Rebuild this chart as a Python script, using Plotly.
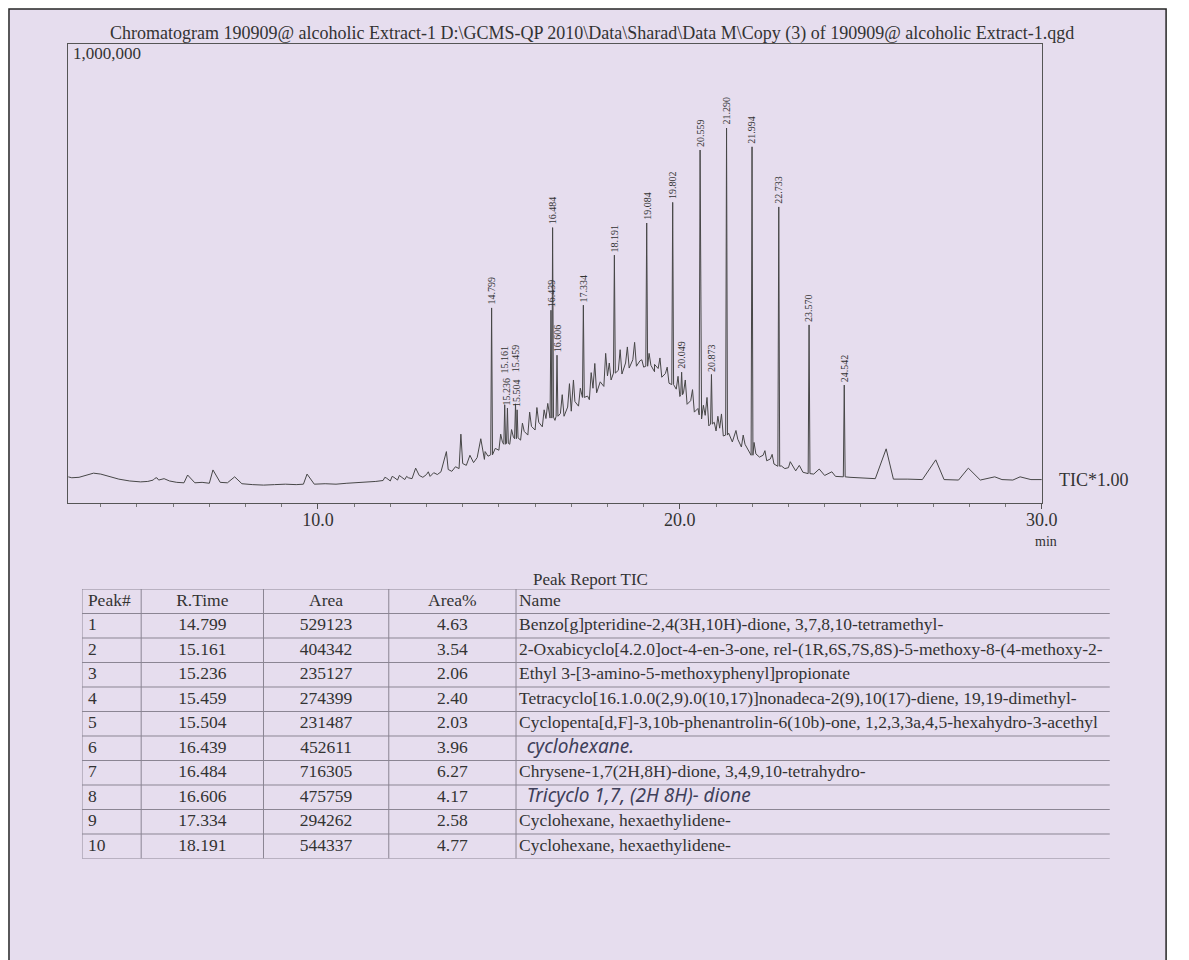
import numpy as np
import plotly.graph_objects as go

# page is 1189x960; the html body adds an 8px margin, so the figure is 1181x952
PW, PH = 1189, 960
OFF = 8
FW, FH = PW - OFF, PH - OFF

# ---------------- chromatogram data (retention time in min, intensity in thousands of counts) --
peak_rt = [14.799, 15.161, 15.236, 15.459, 15.504, 16.439, 16.484, 16.606, 17.334, 18.191,
           19.084, 19.802, 20.049, 20.559, 20.873, 21.290, 21.994, 22.733, 23.570, 24.542]
peak_int_k = [425, 214, 207, 216, 203, 420, 600, 322, 431, 540,
              610, 655, 285, 769, 280, 817, 776, 645, 388, 257]
peak_foot_k = [105, 128, 130, 140, 142, 185, 187, 189, 230, 283,
               298, 258, 236, 192, 172, 148, 104, 80, 64, 57]
peak_lbl = ["14.799", "15.161", "15.236", "15.459", "15.504", "16.439", "16.484", "16.606",
            "17.334", "18.191", "19.084", "19.802", "20.049", "20.559", "20.873", "21.290",
            "21.994", "22.733", "23.570", "24.542"]
label_lift = [0, 28, 0, 28, 0, 0, 0, 0, 0, 0, 0, 0, 0, 0, 0, 0, 0, 0, 0, 0]

# background trace (baseline + unresolved hump)
bg_t = [3.1, 3.2, 3.4, 3.6, 3.8, 4.0, 4.2, 4.5, 4.8, 5.1, 5.3, 5.45, 5.5, 5.6, 5.75, 5.9, 6.1,
        6.3, 6.6, 6.8, 7.0, 7.3, 7.5, 7.9, 8.2, 8.5, 8.8, 9.1, 9.4, 9.6, 9.9, 10.2, 10.5, 10.8,
        11.1, 11.4, 11.6, 11.8, 11.9, 12.0, 12.1, 12.2, 12.3, 12.4, 12.5, 12.6, 12.8, 12.9,
        13.0, 13.1, 13.2, 13.3, 13.4, 13.6, 13.7, 13.8, 13.9, 14.0, 14.1, 14.3, 14.4, 14.6,
        14.7, 14.9, 15.0, 15.1, 15.3, 15.4, 15.6, 15.7, 15.8, 15.9, 16.0, 16.1, 16.2, 16.3,
        16.55, 16.7, 16.8, 16.9, 17.0, 17.1, 17.2, 17.45, 17.5, 17.6, 17.7, 17.8, 17.9, 18.0,
        18.1, 18.3, 18.4, 18.5, 18.6, 18.7, 18.8, 18.9, 19.0, 19.2, 19.3, 19.4, 19.5, 19.6,
        19.7, 19.9, 20.0, 20.1, 20.2, 20.3, 20.4, 20.5, 20.6, 20.7, 20.8, 20.95, 21.0, 21.1,
        21.2, 21.35, 21.45, 21.6, 21.7, 21.8, 21.9, 22.1, 22.2, 22.3, 22.4, 22.5, 22.6, 22.8,
        22.9, 23.0, 23.2, 23.4, 23.7, 24.0, 24.3, 24.7, 25.0, 25.4, 25.9, 26.3, 26.7, 27.3,
        27.7, 28.3, 28.9, 29.2, 29.7, 30.0]
bg_k = [57, 55, 56, 61, 65, 63, 58, 52, 48, 46, 47, 50, 54, 50, 53, 48, 45,
        44, 44, 45, 43, 45, 44, 42, 40, 39, 40, 41, 40, 41, 41, 42, 41, 43,
        44, 45, 47, 49, 54, 48, 56, 50, 57, 51, 55, 53, 60, 56,
        62, 58, 66, 62, 68, 73, 69, 79, 75, 86, 82, 88, 99, 95,
        102, 119, 115, 132, 128, 144, 137, 156, 148, 167, 159, 176, 166, 184,
        180, 195, 189, 209, 200, 221, 211, 233, 225, 250, 240, 264, 254, 277,
        268, 289, 281, 305, 294, 312, 298, 310, 296, 300, 286, 293, 274, 282,
        261, 248, 232, 240, 215, 223, 198, 206, 183, 191, 168, 176, 157, 163,
        146, 152, 133, 139, 122, 128, 113, 107, 100, 104, 92, 96, 85, 81,
        75, 77, 70, 67, 63, 60, 58, 56, 55, 53, 52, 52, 51, 51,
        50, 50, 51, 50, 51, 51]

# smaller unlabelled peaks
minor_t = [5.55, 6.4, 7.1, 7.7, 9.7, 11.85, 12.05, 12.25, 12.45, 12.7, 13.05, 13.55, 13.95,
           14.2, 14.5, 14.62, 15.05, 15.35, 15.65, 15.85, 16.05, 16.25, 16.35, 16.75, 16.95,
           17.06, 17.25, 17.55, 17.65, 17.95, 18.05, 18.35, 18.55, 18.75, 18.95, 19.15, 19.3,
           19.45, 19.65, 19.95, 20.15, 20.35, 20.65, 20.75, 21.05, 21.15, 21.55, 21.75, 22.05,
           22.35, 22.55, 23.05, 23.3, 23.85, 24.2, 25.7, 27.07, 27.97, 28.7, 29.4]
minor_k = [55, 61, 72, 57, 63, 56, 58, 60, 58, 76, 68, 112, 150,
           104, 140, 112, 150, 160, 174, 198, 208, 203, 217, 236, 260,
           268, 250, 284, 304, 326, 305, 334, 340, 350, 312, 326, 302,
           316, 296, 276, 268, 247, 213, 230, 189, 194, 158, 148, 132,
           114, 106, 90, 82, 74, 68, 118, 94, 76, 57, 57]

# ---------------- peak report table -----------------------------------------------------------
tbl_header = ["Peak#", "R.Time", "Area", "Area%", "Name"]
tbl_peak = ["1", "2", "3", "4", "5", "6", "7", "8", "9", "10"]
tbl_rt = ["14.799", "15.161", "15.236", "15.459", "15.504", "16.439", "16.484", "16.606",
          "17.334", "18.191"]
tbl_area = ["529123", "404342", "235127", "274399", "231487", "452611", "716305", "475759",
            "294262", "544337"]
tbl_pct = ["4.63", "3.54", "2.06", "2.40", "2.03", "3.96", "6.27", "4.17", "2.58", "4.77"]
tbl_name = [
    "Benzo[g]pteridine-2,4(3H,10H)-dione, 3,7,8,10-tetramethyl-",
    "2-Oxabicyclo[4.2.0]oct-4-en-3-one, rel-(1R,6S,7S,8S)-5-methoxy-8-(4-methoxy-2-",
    "Ethyl 3-[3-amino-5-methoxyphenyl]propionate",
    "Tetracyclo[16.1.0.0(2,9).0(10,17)]nonadeca-2(9),10(17)-diene, 19,19-dimethyl-",
    "Cyclopenta[d,F]-3,10b-phenantrolin-6(10b)-one, 1,2,3,3a,4,5-hexahydro-3-acethyl",
    "cyclohexane.",
    "Chrysene-1,7(2H,8H)-dione, 3,4,9,10-tetrahydro-",
    "Tricyclo 1,7, (2H 8H)- dione",
    "Cyclohexane, hexaethylidene-",
    "Cyclohexane, hexaethylidene-",
]
handwritten = [False, False, False, False, False, True, False, True, False, False]

title_text = ("Chromatogram 190909@ alcoholic Extract-1 D:\\GCMS-QP 2010\\Data\\Sharad\\Data M\\"
              "Copy (3) of 190909@ alcoholic Extract-1.qgd")

assert len(bg_t) == len(bg_k) and len(minor_t) == len(minor_k)

# ---------------- styling -----------------------------------------------------------------------
PAGE = "#e6ddee"
INK = "#333333"
GRID = "#8b8593"
SERIF = "Liberation Serif, Times New Roman, serif"


def fx(x):  # page pixel -> figure paper x
    return (x - OFF) / FW


def fy(y):  # page pixel -> figure paper y
    return 1 - (y - OFF) / FH


# build trace: background, small spikes, labelled peaks (with narrow feet)
half_w = 0.025
t_parts = list(bg_t) + list(minor_t) + list(peak_rt)
y_parts = list(bg_k) + list(minor_k) + list(peak_int_k)
for rt, ft in zip(peak_rt, peak_foot_k):
    t_parts += [rt - half_w, rt + half_w]
    y_parts += [ft, ft]
t_arr = np.array(t_parts)
y_arr = np.array(y_parts) * 1000.0
order = np.argsort(t_arr, kind="stable")

fig = go.Figure()
fig.add_trace(go.Scatter(x=t_arr[order], y=y_arr[order], mode="lines",
                         line=dict(color="#474747", width=1), hoverinfo="skip",
                         showlegend=False))

# ---------------- table on its own hidden axes ---------------------------------------------------
TBL_L, TBL_R = 83, 1125
col_edges_px = [83, 143, 267, 394, 523]
col_edges = [(c - TBL_L) / (TBL_R - TBL_L) for c in col_edges_px]
ROW_TOP, ROW_H, NROWS = 589, 24.5, 11
pad = 6 / (TBL_R - TBL_L)
TSIZE = 17.5

rows_y = [i + 0.5 for i in range(NROWS)]
centers = [(col_edges[i] + col_edges[i + 1]) / 2 for i in range(1, 4)]


def text_trace(xs, ys, texts, pos, family=SERIF, size=TSIZE, color=INK):
    return go.Scatter(x=xs, y=ys, text=texts, mode="text", textposition=pos,
                      textfont=dict(family=family, size=size, color=color),
                      xaxis="x2", yaxis="y2", cliponaxis=True, hoverinfo="skip",
                      showlegend=False)


# first column (left aligned)
fig.add_trace(text_trace([col_edges[0] + pad] * NROWS, rows_y,
                         [tbl_header[0]] + tbl_peak, "middle right"))
# centred numeric columns
for ci, vals in zip(range(3), [tbl_rt, tbl_area, tbl_pct]):
    fig.add_trace(text_trace([centers[ci]] * NROWS, rows_y,
                             [tbl_header[ci + 1]] + vals, "middle center"))
# name column: printed entries
print_rows = [0] + [i + 1 for i, h in enumerate(handwritten) if not h]
print_txt = [tbl_header[4]] + [n for n, h in zip(tbl_name, handwritten) if not h]
fig.add_trace(text_trace([col_edges[4] + pad * 0.5] * len(print_rows),
                         [r + 0.5 for r in print_rows], print_txt, "middle right"))
# name column: handwritten entries
hw_rows = [i + 1 for i, h in enumerate(handwritten) if h]
hw_txt = ["<i>" + n + "</i>" for n, h in zip(tbl_name, handwritten) if h]
fig.add_trace(text_trace([col_edges[4] + pad * 1.8] * len(hw_rows),
                         [r + 0.5 for r in hw_rows], hw_txt, "middle right",
                         family="Noto Sans, DejaVu Sans", size=19, color="#40405a"))

shapes = [
    dict(type="rect", xref="paper", yref="paper", x0=fx(9), x1=fx(1182), y0=fy(1000),
         y1=fy(9), line=dict(color="#262626", width=1.5), fillcolor=PAGE, layer="below"),
]
for r in range(NROWS + 1):
    shapes.append(dict(type="line", xref="x2", yref="y2", x0=0, x1=1, y0=r, y1=r,
                       line=dict(color=GRID, width=1)))
for c in col_edges:
    shapes.append(dict(type="line", xref="x2", yref="y2", x0=c, x1=c, y0=0, y1=NROWS,
                       line=dict(color=GRID, width=1)))

annotations = []
for rt, h, lbl, lift in zip(peak_rt, peak_int_k, peak_lbl, label_lift):
    annotations.append(dict(x=rt, y=h * 1000.0, xref="x", yref="y", text=lbl,
                            textangle=-90, showarrow=False, xanchor="center",
                            yanchor="bottom", yshift=1 + lift,
                            font=dict(family=SERIF, size=10, color=INK)))

annotations += [
    dict(x=fx(600), y=fy(33), xref="paper", yref="paper", text=title_text, showarrow=False,
         xanchor="center", yanchor="middle", font=dict(family=SERIF, size=18, color=INK)),
    dict(x=fx(72), y=fy(42), xref="paper", yref="paper", text="1,000,000", showarrow=False,
         xanchor="left", yanchor="top", font=dict(family=SERIF, size=17, color=INK)),
    dict(x=fx(1071), y=fy(480), xref="paper", yref="paper", text="TIC*1.00",
         showarrow=False, xanchor="left", yanchor="middle",
         font=dict(family=SERIF, size=18, color=INK)),
    dict(x=fx(1060), y=fy(541), xref="paper", yref="paper", text="min", showarrow=False,
         xanchor="center", yanchor="middle", font=dict(family=SERIF, size=14, color=INK)),
    dict(x=fx(598), y=fy(579), xref="paper", yref="paper", text="Peak Report TIC",
         showarrow=False, xanchor="center", yanchor="middle",
         font=dict(family=SERIF, size=17, color=INK)),
]

fig.update_layout(
    width=FW, height=FH, margin=dict(l=0, r=0, t=0, b=0),
    paper_bgcolor="white", plot_bgcolor="rgba(0,0,0,0)",
    showlegend=False, annotations=annotations, shapes=shapes,
    xaxis=dict(domain=[fx(69), fx(1056)], range=[3.1, 30.0],
               tickvals=[10, 20, 30], ticktext=["10.0", "20.0", "30.0"],
               ticks="outside", ticklen=5, tickcolor="#555", tickwidth=1,
               ticklabelstandoff=-5,
               minor=dict(dtick=1, tick0=0, ticks="outside", ticklen=3, tickcolor="#777"),
               showline=True, linecolor="#555", linewidth=1, mirror=True,
               showgrid=False, zeroline=False,
               tickfont=dict(family=SERIF, size=18, color=INK)),
    yaxis=dict(domain=[fy(503), fy(44)], range=[0, 1_000_000],
               showticklabels=False, ticks="", showgrid=False, zeroline=False,
               showline=True, linecolor="#555", linewidth=1, mirror=True),
    xaxis2=dict(domain=[fx(TBL_L), fx(TBL_R)], range=[0, 1], anchor="y2",
                visible=False, fixedrange=True),
    yaxis2=dict(domain=[fy(ROW_TOP + NROWS * ROW_H), fy(ROW_TOP)], range=[NROWS, 0],
                anchor="x2", visible=False, fixedrange=True),
)

fig.write_html("out.html")
